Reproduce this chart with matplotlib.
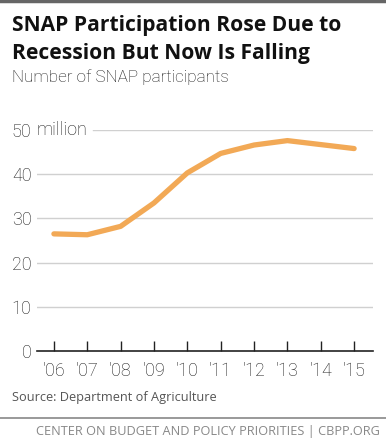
import matplotlib.pyplot as plt
from matplotlib.lines import Line2D
from matplotlib.transforms import blended_transform_factory

plt.rcParams['font.family'] = ['Open Sans', 'DejaVu Sans']

# data: SNAP participants, millions
years = ["'06", "'07", "'08", "'09", "'10", "'11", "'12", "'13", "'14", "'15"]
participants = [26.5, 26.3, 28.2, 33.5, 40.3, 44.7, 46.6, 47.6, 46.7, 45.8]
y_ticks = [0, 10, 20, 30, 40, 50]

W, H = 386, 441
fig = plt.figure(figsize=(W / 100, H / 100), dpi=100)

# axes placed in pixel terms
left, right = 37, 373
top, bottom = 130, 351
ax = fig.add_axes([left / W, (H - bottom) / H, (right - left) / W, (bottom - top) / H])

x = list(range(len(years)))
ax.plot(x, participants, color='#F2A956', lw=3.8, solid_capstyle='round',
        solid_joinstyle='round', zorder=3, clip_on=False)

ax.set_xlim(-0.507, 9.566)
ax.set_ylim(0, 50)

# gridlines (top one starts after the "million" label)
for v in y_ticks[1:-1]:
    ax.axhline(v, color='#d0d0d0', lw=1, zorder=1)
ax.axhline(50, xmin=(93 - left) / (right - left), color='#d0d0d0', lw=1, zorder=1)

for s in ['top', 'right', 'left']:
    ax.spines[s].set_visible(False)
ax.spines['bottom'].set_color('#222222')
ax.spines['bottom'].set_linewidth(1.2)

num_font = ['Roboto', 'DejaVu Sans']
ax.set_xticks(x)
ax.set_xticklabels(years)
ax.set_yticks(y_ticks)
ax.set_yticklabels([str(v) for v in y_ticks])
ax.tick_params(axis='x', length=7, width=1, color='#222222', direction='in',
               pad=8, labelsize=13, labelcolor='#1a1a1a')
ax.tick_params(axis='y', length=0, pad=4, labelsize=13, labelcolor='#1a1a1a')
for lab in ax.get_xticklabels() + ax.get_yticklabels():
    lab.set_family(num_font)
    lab.set_fontweight('light')

tr = blended_transform_factory(ax.transAxes, ax.transData)
ax.text(0.0, 50, 'million', transform=tr, fontsize=13, family=num_font,
        fontweight='light', color='#1a1a1a', ha='left', va='center')

# titles and notes
fig.text(12 / W, 1 - 25 / H, 'SNAP Participation Rose Due to', fontsize=15.1,
         fontweight='bold', color='#111111', va='center')
fig.text(12 / W, 1 - 53 / H, 'Recession But Now Is Falling', fontsize=15.1,
         fontweight='bold', color='#111111', va='center')
fig.text(12 / W, 1 - 77 / H, 'Number of SNAP participants', fontsize=12.3,
         family=num_font, fontweight='light', color='#1a1a1a', va='center')
fig.text(12 / W, 1 - 397 / H, 'Source: Department of Agriculture', fontsize=9.2,
         color='#555555', va='center')

fig.add_artist(Line2D([0, 1], [1 - 1 / H, 1 - 1 / H], transform=fig.transFigure,
                      color='#666666', lw=2.5))
fig.add_artist(Line2D([0, 1], [1 - 418 / H, 1 - 418 / H], transform=fig.transFigure,
                      color='#888888', lw=1.2))
fig.text(380 / W, 1 - 432 / H, 'CENTER ON BUDGET AND POLICY PRIORITIES | CBPP.ORG',
         fontsize=9.2, color='#888888', ha='right', va='center')

fig.savefig('out.png', dpi=100)
